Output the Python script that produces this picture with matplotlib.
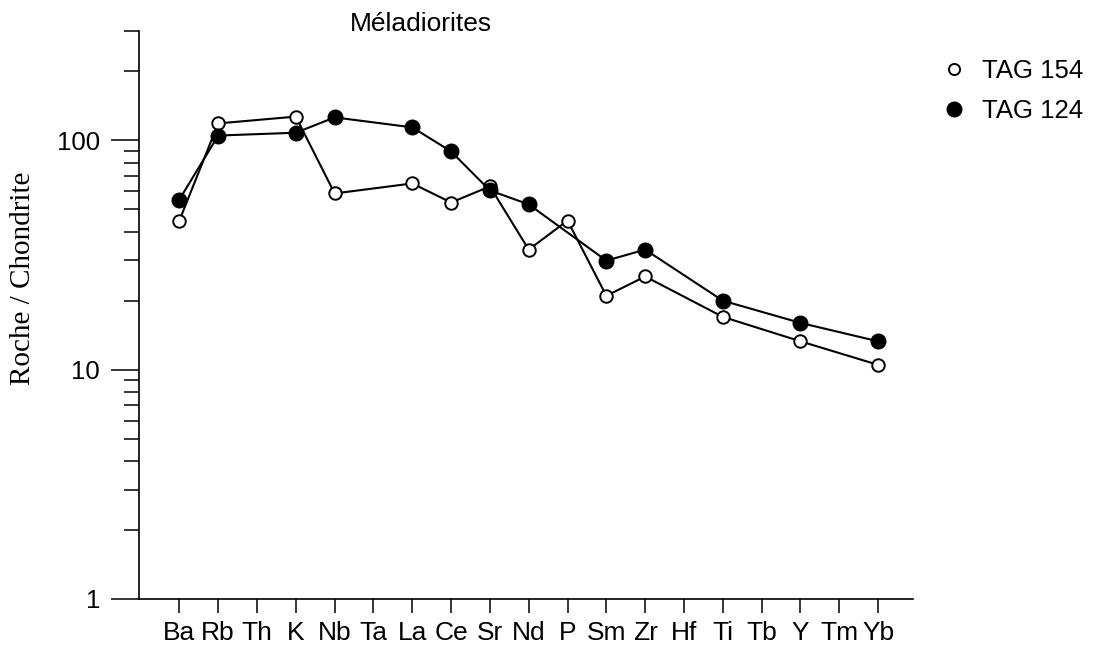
import matplotlib.pyplot as plt
from matplotlib.lines import Line2D

# ---------------------------------------------------------
# Data
# ---------------------------------------------------------
elements = ['Ba', 'Rb', 'Th', 'K', 'Nb', 'Ta', 'La', 'Ce', 'Sr', 'Nd',
            'P', 'Sm', 'Zr', 'Hf', 'Ti', 'Tb', 'Y', 'Tm', 'Yb']

# TAG 154 (open circles)
tag154_elems = ['Ba', 'Rb', 'K', 'Nb', 'La', 'Ce', 'Sr', 'Nd', 'P', 'Sm', 'Zr', 'Ti', 'Y', 'Yb']
tag154_vals = [44.7, 118.6, 127, 58.7, 64.9, 53.6, 63, 33.4, 44.7, 21.0, 25.5, 17.0, 13.3, 10.5]

# TAG 124 (filled circles)
tag124_elems = ['Ba', 'Rb', 'K', 'Nb', 'La', 'Ce', 'Sr', 'Nd', 'Sm', 'Zr', 'Ti', 'Y', 'Yb']
tag124_vals = [55.2, 105, 108, 126, 114, 89.5, 60.5, 52.6, 29.9, 33.4, 20.0, 16.0, 13.3]

sans = ['Liberation Sans', 'DejaVu Sans']
serif = ['Liberation Serif', 'DejaVu Serif']

# ---------------------------------------------------------
# Figure
# ---------------------------------------------------------
W, H = 1097, 651
fig = plt.figure(figsize=(W / 100, H / 100), dpi=100)
ax = fig.add_axes([139 / W, (H - 599) / H, (913 - 139) / W, (599 - 31) / H])

x154 = [elements.index(e) for e in tag154_elems]
x124 = [elements.index(e) for e in tag124_elems]

ax.plot(x154, tag154_vals, '-o', color='black', lw=1.5, ms=9,
        mfc='white', mec='black', mew=1.4, zorder=3)
ax.plot(x124, tag124_vals, '-o', color='black', lw=1.5, ms=10.5,
        mfc='black', mec='black', zorder=4)

ax.set_yscale('log')
ax.set_ylim(1, 300)
ax.set_xlim(-1.04, 18.9)

ax.set_xticks(range(len(elements)))
ax.set_xticklabels(elements, fontsize=19, family=sans)
ax.set_yticks([1, 10, 100])
ax.set_yticklabels(['1', '10', '100'], fontsize=18.5, family=sans)

ax.tick_params(axis='x', length=10, width=1.1, pad=6, direction='out')
ax.tick_params(axis='y', which='major', length=20, width=1.1, pad=8, direction='out')
ax.tick_params(axis='y', which='minor', length=11, width=1.1, direction='out')

for s in ['top', 'right']:
    ax.spines[s].set_visible(False)
for s in ['left', 'bottom']:
    ax.spines[s].set_linewidth(1.2)

fig.text(23 / W, 1 - 278 / H, 'Roche / Chondrite', rotation=90,
         ha='center', va='center', fontsize=21, family=serif)
fig.text(421 / W, 1 - 24 / H, 'Méladiorites', ha='center', va='center',
         fontsize=19, family=sans)

# Legend, outside the axes on the right
handles = [
    Line2D([], [], ls='none', marker='o', ms=8, mfc='white', mec='black', mew=1.4),
    Line2D([], [], ls='none', marker='o', ms=10.5, mfc='black', mec='black'),
]
fig.legend(handles, ['TAG 154', 'TAG 124'], loc='upper left',
           bbox_to_anchor=(931 / W, 1 - 49 / H), frameon=False,
           prop={'family': sans, 'size': 18.5}, handlelength=1.0,
           handletextpad=0.6, labelspacing=0.6, borderaxespad=0)

plt.savefig('out.png', dpi=100)
